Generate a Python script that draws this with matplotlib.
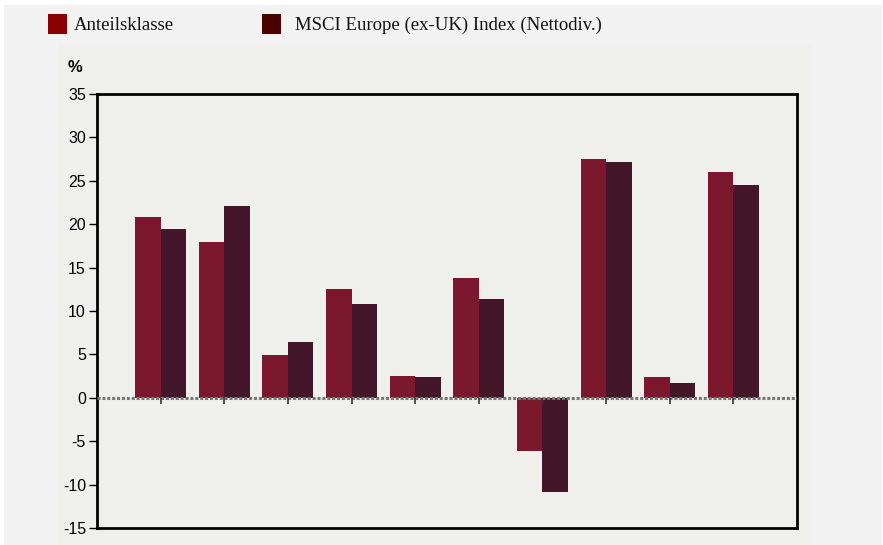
import matplotlib
matplotlib.use("Agg")
import matplotlib.pyplot as plt
import numpy as np
from matplotlib.patches import Rectangle

categories = [str(i) for i in range(1, 11)]
fund = [20.8, 17.9, 4.9, 12.5, 2.5, 13.8, -6.1, 27.5, 2.4, 26.0]
index = [19.4, 22.1, 6.4, 10.8, 2.4, 11.4, -10.8, 27.2, 1.7, 24.5]
series_names = ["Anteilsklasse", "MSCI Europe (ex-UK) Index (Nettodiv.)"]
yticks = [-15, -10, -5, 0, 5, 10, 15, 20, 25, 30, 35]

W, H = 883, 545
fig = plt.figure(figsize=(W / 100, H / 100), dpi=100)
fig.patch.set_facecolor("white")

# outer light gray area and inner panel
fig.patches.append(Rectangle((4 / W, 0), (W - 5) / W, (H - 5) / H,
                             transform=fig.transFigure, facecolor="#f2f2f2",
                             edgecolor="none", zorder=-2))
fig.patches.append(Rectangle((59 / W, 0), (812 - 59) / W, (H - 44) / H,
                             transform=fig.transFigure, facecolor="#efefeb",
                             edgecolor="none", zorder=-1))

ax = fig.add_axes([97 / W, (H - 528) / H, (797 - 97) / W, (528 - 94) / H])
ax.set_zorder(2)
ax.set_facecolor("#efefeb")

x = np.arange(len(categories))
bw = 0.4
ax.bar(x - bw / 2, fund, width=bw, color="#7c1730", zorder=2)
ax.bar(x + bw / 2, index, width=bw, color="#431729", zorder=2)

ax.axhline(0, color="#777777", linewidth=2.2, linestyle=(0, (1, 0.6)), zorder=3)

ax.set_xlim(-1, 10)
ax.set_ylim(-15, 35)
ax.set_yticks(yticks)
ax.set_yticklabels([str(v) for v in yticks], fontfamily="Liberation Sans", fontsize=11.5)
ax.tick_params(axis="y", direction="out", length=6, width=1, pad=2, color="black")
ax.set_xticks([])
for xi in x:
    ax.plot([xi, xi], [0, -0.75], color="#333333", linewidth=1.2, zorder=3,
            solid_capstyle="butt")

for s in ax.spines.values():
    s.set_linewidth(2)
    s.set_color("black")

fig.text(68 / W, 1 - 67 / H, "%", fontfamily="Liberation Sans", fontweight="bold",
         fontsize=12, va="center", ha="left")

# legend
lcolors = ["#8b0000", "#4b0000"]
lx = [48, 262]
tx = [74, 295]
for c, px, t, name in zip(lcolors, lx, tx, series_names):
    fig.patches.append(Rectangle((px / W, 1 - 34 / H), 19 / W, 20 / H,
                                 transform=fig.transFigure, facecolor=c,
                                 edgecolor="none", zorder=2))
    fig.text(t / W, 1 - 25 / H, name, fontfamily="Liberation Serif", fontsize=13.5,
             va="center", ha="left", color="#111111")

fig.savefig("out.png", dpi=100, facecolor=fig.get_facecolor())
